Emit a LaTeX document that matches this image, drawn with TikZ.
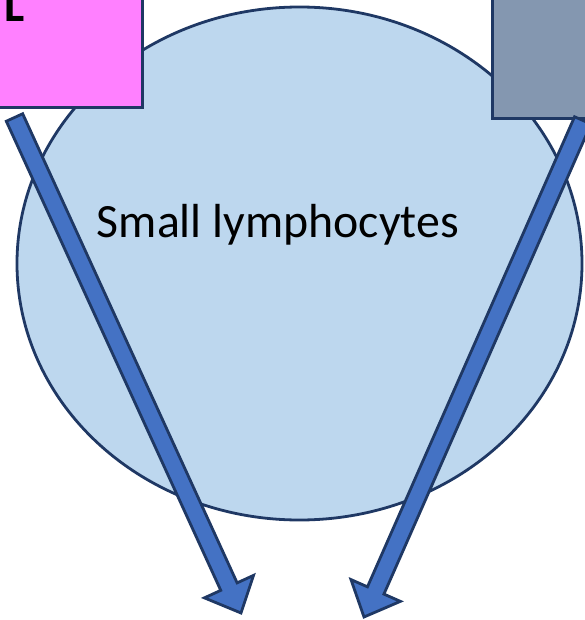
\documentclass[tikz,border=0pt]{standalone}
\usepackage{fontspec}
\setmainfont{Carlito}
\usetikzlibrary{calc,shapes.geometric}
\definecolor{navy}{HTML}{1F3864}
\definecolor{cellfill}{HTML}{BDD7EE}
\definecolor{pinkbox}{HTML}{FF80FF}
\definecolor{graybox}{HTML}{8497B0}
\definecolor{arrowfill}{HTML}{4472C4}
\tikzset{
  outline/.style={draw=navy, line width=2.8pt, line join=miter},
  bigarrow/.style={outline, fill=arrowfill},
}
\newcommand{\fatarrow}[2]{%
  \path ($(#2)!29pt!(#1)$) coordinate (hb);
  \draw[bigarrow] ($(#1)!9pt!90:(#2)$) -- ($(hb)!9pt!90:(#2)$) -- ($(hb)!27pt!90:(#2)$)
    -- (#2) -- ($(hb)!27pt!-90:(#2)$) -- ($(hb)!9pt!-90:(#2)$) -- ($(#1)!9pt!-90:(#2)$) -- cycle;
}
\begin{document}
\begin{tikzpicture}[x=1pt,y=1pt]
\useasboundingbox (0,0) rectangle (585,-620);
% cell
\node[outline, fill=cellfill, ellipse, minimum width=565pt, minimum height=513pt, inner sep=0pt] (cell) at (299.5,-263.5) {};
\node[font=\fontsize{47.8}{54}\selectfont, anchor=base] (label) at (278,-237) {Small lymphocytes};
% boxes
\node[outline, fill=pinkbox, rectangle, inner sep=0pt, minimum width=154pt, minimum height=119pt, anchor=south east] (pink) at (144,-109) {};
\node[font=\fontsize{47.8}{54}\selectfont\bfseries, anchor=base west, inner sep=0pt] (ltext) at (4,-22) {L};
\node[outline, fill=graybox, rectangle, inner sep=0pt, minimum width=109pt, minimum height=130pt, anchor=south west] (gray) at (491,-120) {};
% arrows
\coordinate (ltail) at (14.5,-117.5);
\coordinate (ltip) at (241,-613);
\coordinate (rtail) at (582.8,-120.4);
\coordinate (rtip) at (364,-617);
\fatarrow{ltail}{ltip}
\fatarrow{rtail}{rtip}
\end{tikzpicture}
\end{document}
